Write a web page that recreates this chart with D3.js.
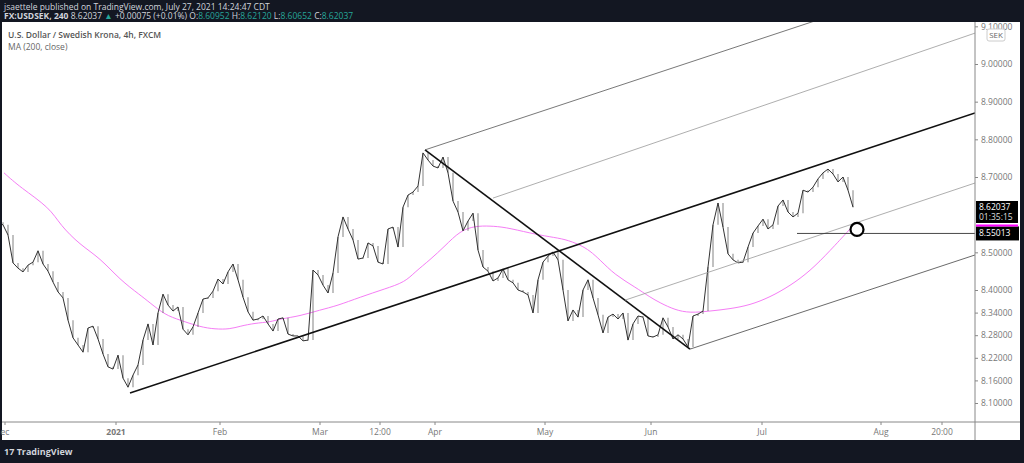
<!DOCTYPE html>
<html><head><meta charset="utf-8">
<script src="https://cdn.jsdelivr.net/npm/d3@7"></script>
<style>body{margin:0;background:#131722;font-family:"Open Sans",sans-serif}</style>
</head><body><svg id="c" width="1024" height="463"></svg>
<script>
// weekday closes from 2020-12-01
var closes = [8.580,8.573,8.546,8.472,8.458,8.448,8.466,8.474,8.504,8.469,8.450,8.421,8.395,8.379,8.320,8.273,8.254,8.235,8.299,8.304,
8.270,8.230,8.196,8.190,8.227,8.166,8.142,8.174,8.201,8.267,8.310,8.254,8.339,8.389,8.360,8.344,8.355,8.296,8.281,8.302,
8.339,8.376,8.379,8.397,8.429,8.416,8.448,8.469,8.427,8.381,8.342,8.320,8.323,8.331,8.310,8.291,8.323,8.326,8.283,8.278,
8.278,8.265,8.267,8.453,8.440,8.413,8.392,8.445,8.541,8.594,8.562,8.533,8.482,8.485,8.525,8.517,8.474,8.469,8.562,8.567,
8.514,8.620,8.652,8.660,8.676,8.764,8.745,8.729,8.724,8.753,8.711,8.636,8.607,8.557,8.583,8.604,8.506,8.461,8.450,8.424,
8.432,8.456,8.427,8.419,8.400,8.395,8.387,8.339,8.427,8.474,8.490,8.501,8.480,8.400,8.318,8.347,8.328,8.400,8.427,8.379,
8.334,8.286,8.328,8.336,8.323,8.339,8.267,8.310,8.331,8.328,8.278,8.275,8.281,8.326,8.302,8.270,8.281,8.270,8.249,8.331,
8.336,8.344,8.461,8.573,8.631,8.567,8.496,8.480,8.472,8.474,8.514,8.551,8.570,8.588,8.562,8.573,8.623,8.639,8.607,8.594,
8.604,8.665,8.660,8.673,8.695,8.711,8.721,8.708,8.687,8.700,8.665,8.620];
var maIdx = [1.2,4.4,10.4,12.4,16.4,20.4,24.4,28.4,30.4,33.4,36.4,40.4,43.4,46.4,48.4,51.4,54.4,56.4,60.4,64.4,67.8,72.4,77.4,81.4,83.4,86.4,89.4,92.4,95.4,98.4,101.4,106.4,110.4,113.4,116.4,118.4,120.4,123.4,127.4,130.4,132.4,135.4,138.4,142.4,146.4,150.4,154.4,158.4,162.4,166.4,170.4];
var maVals = [8.711,8.673,8.618,8.573,8.520,8.485,8.427,8.387,8.366,8.334,8.320,8.302,8.296,8.296,8.304,8.312,8.315,8.323,8.331,8.347,8.358,8.381,8.403,8.421,8.448,8.480,8.517,8.557,8.570,8.570,8.567,8.551,8.541,8.535,8.520,8.504,8.480,8.440,8.408,8.381,8.366,8.347,8.339,8.344,8.350,8.360,8.381,8.411,8.450,8.504,8.562];
// drawn lines: [i1, p1, i2, p2, width, colour]
var trendLines = [
  [26.4,8.1265,195.4,8.870,1.6,"#111"],
  [85.4,8.772,138.4,8.243,1.6,"#111"],
  [85.4,8.772,195.4,9.255,0.8,"#555"],
  [99,8.644,195.4,9.082,0.8,"#999"],
  [125.4,8.373,195.4,8.684,0.8,"#999"],
  [138.4,8.243,195.4,8.493,0.8,"#444"]
];
var yTicks = [9.1,9.0,8.9,8.8,8.7,8.5,8.4,8.34,8.28,8.22,8.16,8.10];
var xLabels = [["ec",1.4],["2021",23.6],["Feb",44.4],["Mar",64.4],["12:00",76.4],["Apr",87.4],["May",109.4],["Jun",130.6],["Jul",152.8],["Aug",176.6],["20:00",188.8]];
var lastPrice = 8.62037, levelPrice = 8.55013;

var svg = d3.select("#c");
var L = 2, R = 975, T = 22, B = 422;
var x = d3.scaleLinear().domain([0, 195.4]).range([-2, R]);
var y = d3.scaleLinear().domain([8.10, 9.00]).range([403, 64]);

svg.append("rect").attr("x", L).attr("y", T).attr("width", 1018).attr("height", 418).attr("fill", "#fff");
svg.append("clipPath").attr("id", "cp").append("rect").attr("x", L).attr("y", T).attr("width", R - L).attr("height", B - T);
var g = svg.append("g").attr("clip-path", "url(#cp)");

// header
svg.append("text").attr("x", 4).attr("y", 10).attr("fill", "#d1d4dc").attr("font-size", 8.5)
  .text("jsaettele published on TradingView.com, July 27, 2021 14:24:47 CDT");
var h = svg.append("text").attr("x", 4).attr("y", 19).attr("font-size", 8.5).attr("fill", "#d1d4dc");
h.append("tspan").attr("font-weight", "bold").text("FX:USDSEK, 240 ");
h.append("tspan").text("8.62037 ");
h.append("tspan").attr("fill", "#26a69a").text("▲ ");
h.append("tspan").text("+0.00075 (+0.01%) O:");
h.append("tspan").attr("fill", "#26a69a").text("8.60952 ");
h.append("tspan").text("H:");
h.append("tspan").attr("fill", "#26a69a").text("8.62120 ");
h.append("tspan").text("L:");
h.append("tspan").attr("fill", "#26a69a").text("8.60652 ");
h.append("tspan").text("C:");
h.append("tspan").attr("fill", "#26a69a").text("8.62037");
svg.append("text").attr("x", 8).attr("y", 38).attr("font-size", 8.5).attr("fill", "#555").attr("font-weight", 600).text("U.S. Dollar / Swedish Krona, 4h, FXCM");
svg.append("text").attr("x", 8).attr("y", 50).attr("font-size", 8.5).attr("fill", "#666").text("MA (200, close)");

// MA
g.append("path").datum(maIdx.map(function (d, i) { return [d, maVals[i]]; }))
  .attr("fill", "none").attr("stroke", "#f57df5").attr("stroke-width", 1)
  .attr("d", d3.line().x(function (d) { return x(d[0]); }).y(function (d) { return y(d[1]); }).curve(d3.curveBasis));

// price bars + line
g.selectAll(".bar").data(closes.slice(1)).join("line").attr("class", "bar")
  .attr("x1", function (d, i) { return x(i + 1); }).attr("x2", function (d, i) { return x(i + 1); })
  .attr("y1", function (d, i) { return y(closes[i]); }).attr("y2", function (d) { return y(d); })
  .attr("stroke", "#555").attr("stroke-width", 1.2).attr("opacity", 0.6);
g.append("path").datum(closes).attr("fill", "none").attr("stroke", "#333").attr("stroke-width", 1)
  .attr("d", d3.line().x(function (d, i) { return x(i); }).y(function (d) { return y(d); }));

// trend lines
g.selectAll(".tl").data(trendLines).join("line").attr("class", "tl")
  .attr("x1", function (d) { return x(d[0]); }).attr("y1", function (d) { return y(d[1]); })
  .attr("x2", function (d) { return x(d[2]); }).attr("y2", function (d) { return y(d[3]); })
  .attr("stroke-width", function (d) { return d[4]; }).attr("stroke", function (d) { return d[5]; });
g.append("line").attr("x1", x(159.8)).attr("x2", R).attr("y1", y(levelPrice)).attr("y2", y(levelPrice)).attr("stroke", "#333").attr("stroke-width", 0.9);
g.append("circle").attr("cx", x(171.8)).attr("cy", y(8.5607)).attr("r", 6.5).attr("fill", "#fff").attr("stroke", "#000").attr("stroke-width", 2.2);

// axes
svg.append("line").attr("x1", R).attr("x2", R).attr("y1", T).attr("y2", 440).attr("stroke", "#888");
svg.append("line").attr("x1", L).attr("x2", 1020).attr("y1", B).attr("y2", B).attr("stroke", "#888");
var ya = svg.append("g").attr("transform", "translate(" + R + ",0)")
  .call(d3.axisRight(y).tickValues(yTicks).tickFormat(d3.format(".5f")).tickSize(3));
ya.select(".domain").remove();
ya.selectAll("text").attr("fill", "#777").attr("font-size", 8.5).attr("font-family", "Open Sans");
ya.selectAll("line").attr("stroke", "#888");
var xa = svg.append("g").attr("transform", "translate(0," + B + ")");
xa.selectAll("text").data(xLabels).join("text").attr("x", function (d) { return x(d[1]); }).attr("y", 13)
  .attr("text-anchor", "middle").attr("font-size", 8.5).attr("fill", "#777")
  .attr("font-weight", function (d) { return d[0] === "2021" ? "bold" : null; }).text(function (d) { return d[0]; });
xa.selectAll("line").data(xLabels).join("line").attr("x1", function (d) { return x(d[1]); }).attr("x2", function (d) { return x(d[1]); })
  .attr("y1", 0).attr("y2", 3).attr("stroke", "#888");

// SEK tag
svg.append("rect").attr("x", 987).attr("y", 29).attr("width", 18).attr("height", 12).attr("fill", "#fff").attr("stroke", "#ccc").attr("rx", 2);
svg.append("text").attr("x", 996).attr("y", 38).attr("text-anchor", "middle").attr("font-size", 8).attr("fill", "#666").text("SEK");

// price labels
var py = y(lastPrice);
svg.append("rect").attr("x", 976).attr("y", py - 6).attr("width", 42).attr("height", 22).attr("fill", "#000");
svg.append("text").attr("x", 979).attr("y", py + 3).attr("font-size", 8.5).attr("fill", "#fff").text("8.62037");
svg.append("text").attr("x", 979).attr("y", py + 13).attr("font-size", 8.5).attr("fill", "#ddd").text("01:35:15");
var ly = y(levelPrice);
svg.append("rect").attr("x", 976).attr("y", ly - 7).attr("width", 43).attr("height", 14).attr("fill", "#000");
svg.append("line").attr("x1", 976).attr("x2", 1018).attr("y1", ly - 8).attr("y2", ly - 8).attr("stroke", "#f0f").attr("stroke-width", 2);
svg.append("text").attr("x", 979).attr("y", ly + 3).attr("font-size", 8.5).attr("fill", "#fff").text("8.55013");

// footer
svg.append("text").attr("x", 4).attr("y", 455).attr("font-size", 9).attr("fill", "#d1d4dc").attr("font-weight", "bold").text("17 TradingView");
</script></body></html>
